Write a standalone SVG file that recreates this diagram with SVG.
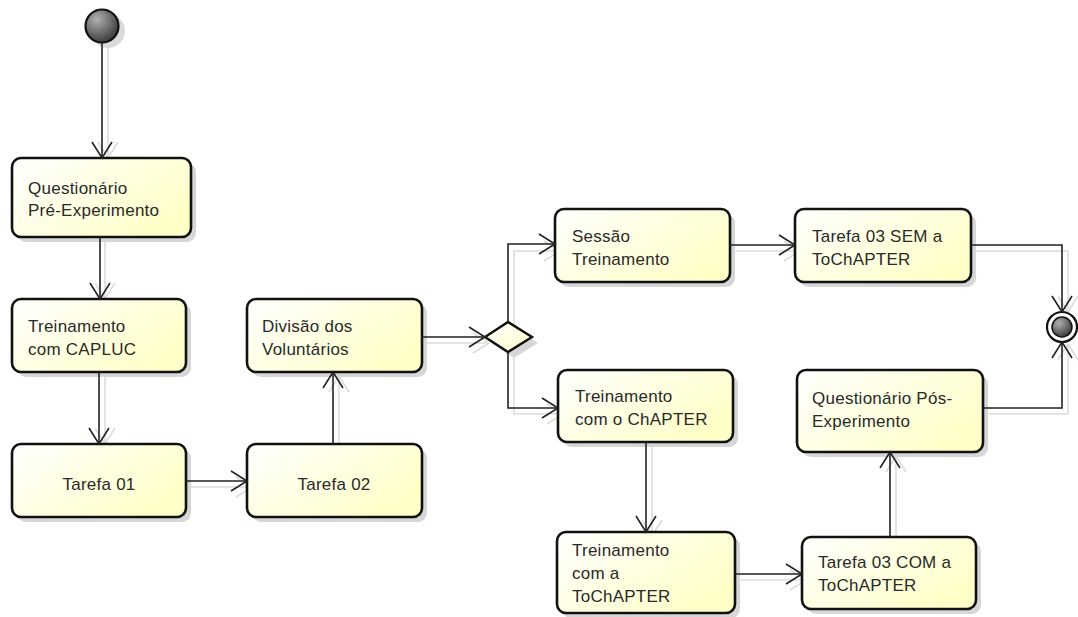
<svg xmlns="http://www.w3.org/2000/svg" width="1078" height="617" viewBox="0 0 1078 617">
<defs>
<linearGradient id="boxfill" x1="0" y1="0" x2="1" y2="0.6">
<stop offset="0" stop-color="#ffffff"/>
<stop offset="1" stop-color="#ffffc8"/>
</linearGradient>
<radialGradient id="ball" cx="0.35" cy="0.3" r="0.8">
<stop offset="0" stop-color="#b0b0b0"/>
<stop offset="1" stop-color="#303030"/>
</radialGradient>
<linearGradient id="dfill" x1="0" y1="0" x2="1" y2="1">
<stop offset="0" stop-color="#ffffff"/>
<stop offset="1" stop-color="#ffffc8"/>
</linearGradient>
<marker id="arr" markerUnits="userSpaceOnUse" markerWidth="40" markerHeight="40" refX="0" refY="0" viewBox="-20 -20 40 40" orient="auto" overflow="visible">
<path d="M-16,-10 L0,0 L-16,10" fill="none" stroke="#222" stroke-width="1.6"/>
</marker>
<marker id="arrs" markerUnits="userSpaceOnUse" markerWidth="40" markerHeight="40" refX="0" refY="0" viewBox="-20 -20 40 40" orient="auto" overflow="visible">
<path d="M-16,-10 L0,0 L-16,10" fill="none" stroke="#dcdcdc" stroke-width="1.6"/>
</marker>
</defs>
<style>
.box{fill:url(#boxfill);stroke:#111;stroke-width:2.6}
.sh{fill:#d6d6d6}
.t{font-family:"Liberation Sans",Arial,sans-serif;font-size:17px;letter-spacing:0.25px;fill:#2a2a2a}
.c{fill:none;stroke:#222;stroke-width:1.6;marker-end:url(#arr)}
.cs{fill:none;stroke:#dcdcdc;stroke-width:1.6;marker-end:url(#arrs)}
</style>
<rect width="1078" height="617" fill="#ffffff"/>

<g id="connector-shadows">
<path class="cs" d="M108,46 V158"/>
<path class="cs" d="M105,240 V299"/>
<path class="cs" d="M105,375 V444"/>
<path class="cs" d="M189,487 H252"/>
<path class="cs" d="M339,519 V376"/>
<path class="cs" d="M425,343 H489"/>
<path class="cs" d="M514,330 V251 H560"/>
<path class="cs" d="M514,356 V414 H563"/>
<path class="cs" d="M733,251 H800"/>
<path class="cs" d="M974,251 H1068 V312"/>
<path class="cs" d="M986,414 H1068 V344"/>
<path class="cs" d="M652,446 V536"/>
<path class="cs" d="M738,580 H806"/>
<path class="cs" d="M896,540 V456"/>
</g>

<g id="start">
<circle cx="108" cy="31" r="17" fill="#dadada"/>
<circle cx="102" cy="26" r="16.5" fill="url(#ball)" stroke="#111" stroke-width="2.2"/>
</g>

<g id="n1">
<rect class="sh" x="17" y="163" width="179" height="79" rx="9"/>
<rect class="box" x="12" y="158" width="179" height="79" rx="9"/>
<text class="t" x="28" y="194">Questionário</text>
<text class="t" x="28" y="216">Pré-Experimento</text>
</g>

<g id="n2">
<rect class="sh" x="17" y="304" width="174" height="73" rx="9"/>
<rect class="box" x="12" y="299" width="174" height="73" rx="9"/>
<text class="t" x="28" y="332">Treinamento</text>
<text class="t" x="28" y="355">com CAPLUC</text>
</g>

<g id="n3">
<rect class="sh" x="17" y="449" width="174" height="73" rx="9"/>
<rect class="box" x="12" y="444" width="174" height="73" rx="9"/>
<text class="t" x="99" y="490" text-anchor="middle">Tarefa 01</text>
</g>

<g id="n4">
<rect class="sh" x="252" y="449" width="175" height="73" rx="9"/>
<rect class="box" x="247" y="444" width="175" height="73" rx="9"/>
<text class="t" x="334" y="490" text-anchor="middle">Tarefa 02</text>
</g>

<g id="n5">
<rect class="sh" x="252" y="304" width="175" height="73" rx="9"/>
<rect class="box" x="247" y="299" width="175" height="73" rx="9"/>
<text class="t" x="262" y="332">Divisão dos</text>
<text class="t" x="262" y="355">Voluntários</text>
</g>

<g id="decision">
<path d="M491,343 L514,328 L538,343 L514,358 Z" fill="#d6d6d6"/>
<path d="M485,337 L508,322 L532,337 L508,352 Z" fill="url(#dfill)" stroke="#111" stroke-width="2.4"/>
</g>

<g id="n6">
<rect class="sh" x="560" y="214" width="175" height="73" rx="9"/>
<rect class="box" x="555" y="209" width="175" height="73" rx="9"/>
<text class="t" x="572" y="242">Sessão</text>
<text class="t" x="572" y="265">Treinamento</text>
</g>

<g id="n7">
<rect class="sh" x="800" y="214" width="176" height="73" rx="9"/>
<rect class="box" x="795" y="209" width="176" height="73" rx="9"/>
<text class="t" x="812" y="242">Tarefa 03 SEM a</text>
<text class="t" x="812" y="265">ToChAPTER</text>
</g>

<g id="n8">
<rect class="sh" x="563" y="375" width="175" height="72" rx="9"/>
<rect class="box" x="558" y="370" width="175" height="72" rx="9"/>
<text class="t" x="575" y="402">Treinamento</text>
<text class="t" x="575" y="425">com o ChAPTER</text>
</g>

<g id="n9">
<rect class="sh" x="802" y="375" width="186" height="82" rx="9"/>
<rect class="box" x="797" y="370" width="186" height="82" rx="9"/>
<text class="t" x="812" y="404">Questionário Pós-</text>
<text class="t" x="812" y="427">Experimento</text>
</g>

<g id="n10">
<rect class="sh" x="562" y="537" width="178" height="81" rx="9"/>
<rect class="box" x="557" y="532" width="178" height="81" rx="9"/>
<text class="t" x="572" y="556">Treinamento</text>
<text class="t" x="572" y="579">com a</text>
<text class="t" x="572" y="602">ToChAPTER</text>
</g>

<g id="n11">
<rect class="sh" x="807" y="542" width="174" height="72" rx="9"/>
<rect class="box" x="802" y="537" width="174" height="72" rx="9"/>
<text class="t" x="818" y="568">Tarefa 03 COM a</text>
<text class="t" x="818" y="591">ToChAPTER</text>
</g>

<g id="end">
<circle cx="1062" cy="327" r="15" fill="#ffffff" stroke="#111" stroke-width="2.2"/>
<circle cx="1062" cy="327" r="10" fill="url(#ball)" stroke="#111" stroke-width="1.5"/>
</g>

<g id="connectors">
<path class="c" d="M102,43 V158"/>
<path class="c" d="M100,237 V299"/>
<path class="c" d="M99,372 V444"/>
<path class="c" d="M186,481 H247"/>
<path class="c" d="M333,444 V372"/>
<path class="c" d="M422,337 H485"/>
<path class="c" d="M508,322 V244 H555"/>
<path class="c" d="M508,352 V408 H558"/>
<path class="c" d="M730,245 H795"/>
<path class="c" d="M971,245 H1062 V312"/>
<path class="c" d="M983,408 H1062 V342"/>
<path class="c" d="M646,442 V532"/>
<path class="c" d="M735,574 H802"/>
<path class="c" d="M890,537 V452"/>
</g>
</svg>
